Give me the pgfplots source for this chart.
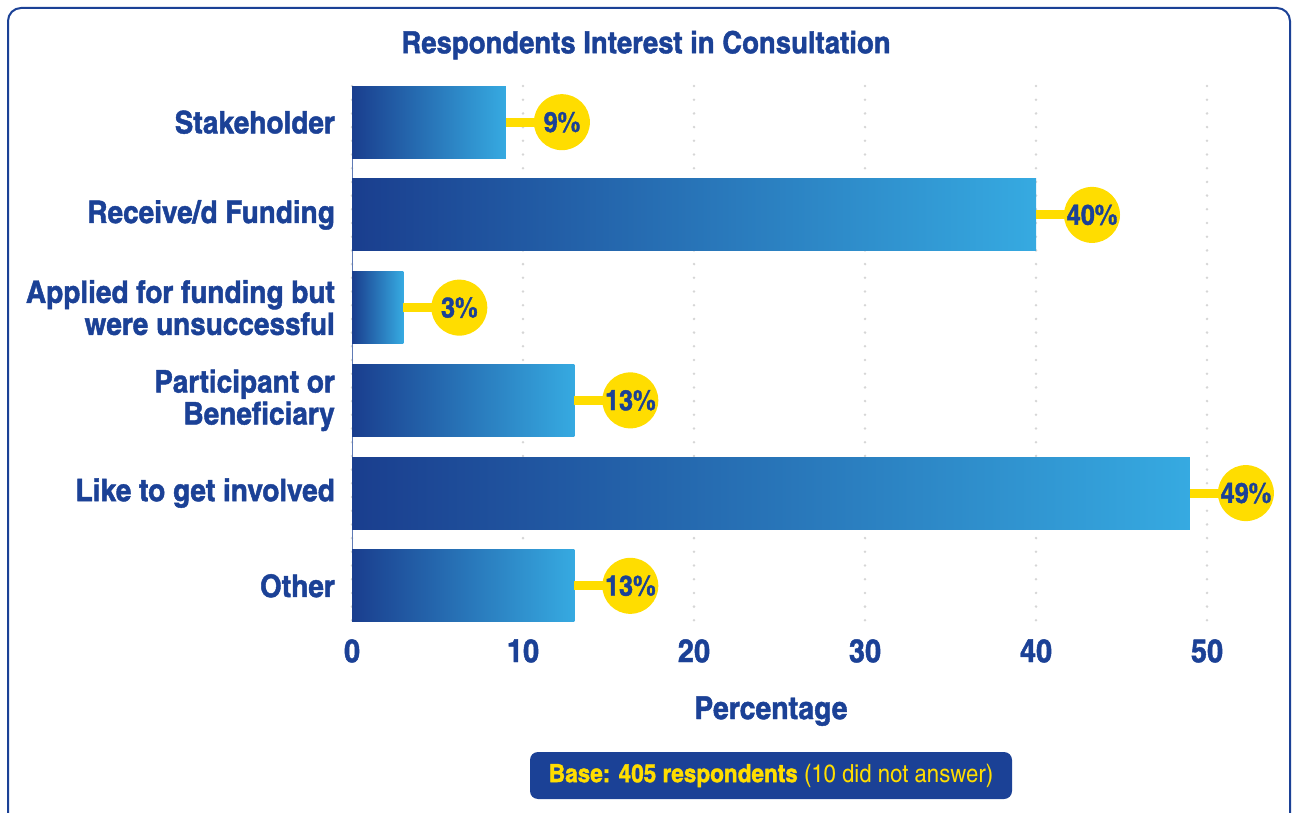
\documentclass[border=0pt]{standalone}
\usepackage{fontspec}
\setmainfont{texgyreheroscn}[Extension=.otf, UprightFont=*-regular, BoldFont=*-bold, ItalicFont=*-italic, BoldItalicFont=*-bolditalic, UprightFeatures={FakeStretch=1.08}, BoldFeatures={FakeStretch=1.1, FakeBold=1.4}]
\usepackage{pgfplots}
\pgfplotsset{compat=1.18}
\usepackage{xcolor}

\definecolor{navy}{HTML}{1B4196}
\definecolor{barL}{HTML}{1A3E8E}
\definecolor{barR}{HTML}{36AAE1}
\definecolor{dot}{HTML}{D6D6D6}
\definecolor{yel}{HTML}{FFDD00}

\pgfplotsset{shadedbar/.style={xbar, bar shift=0pt, bar width=72pt, draw=none, left color=barL, right color=barR}}

\begin{document}
\begin{tikzpicture}
\useasboundingbox (0pt,0pt) rectangle (1293pt,812pt);
\begin{scope}
\clip (0pt,0pt) rectangle (1293pt,812pt);
\draw[navy, line width=2pt, rounded corners=13pt] (8pt,-20pt) rectangle (1290pt,804pt);
\end{scope}
\begin{axis}[
at={(352pt,726pt)}, anchor=north west,
scale only axis, width=897.75pt, height=536pt,
xmin=0, xmax=52.5, ymin=-0.39, ymax=5.39,
y dir=reverse,
clip=false,
axis y line*=left, axis x line*=bottom,
x axis line style={draw=none},
y axis line style={draw=navy!70, line width=1pt},
major tick length=0pt,
xtick={0,10,20,30,40,50},
ytick={0,1,2,3,4,5},
yticklabels={Stakeholder, Receive/d Funding, {Applied for funding but\\were unsuccessful}, {Participant or\\Beneficiary}, Like to get involved, Other},
/pgf/number format/assume math mode=true,
xticklabel style={anchor=base, yshift=-40pt, font=\fontsize{32}{34}\selectfont\bfseries, text=navy},
yticklabel style={anchor=east, inner sep=0pt, xshift=-17pt, align=right, font=\fontsize{31}{32}\selectfont\bfseries, text=navy},
xmajorgrids,
grid style={dot, line width=2.8pt, line cap=round, dash pattern=on 0pt off 13.7pt},
title={Respondents Interest in Consultation},
title style={at={(axis description cs:0.3275,1.05)}, anchor=base, font=\fontsize{30.5}{32}\selectfont\bfseries, text=navy},
xlabel={Percentage},
xlabel style={at={(axis description cs:0.4667,-0.181)}, anchor=base, font=\fontsize{31.5}{34}\selectfont\bfseries, text=navy},
]
\addplot[shadedbar] coordinates {(9,0)};
\addplot[shadedbar] coordinates {(40,1)};
\addplot[shadedbar] coordinates {(3,2)};
\addplot[shadedbar] coordinates {(13,3)};
\addplot[shadedbar] coordinates {(49,4)};
\addplot[shadedbar] coordinates {(13,5)};
% connectors and value circles
\addplot[draw=none, mark=none, point meta=x,
  error bars/.cd, x dir=plus, x explicit,
  error bar style={draw=yel, line width=9pt}, error mark=none,
  /pgfplots/.cd,
  nodes near coords={\pgfmathprintnumber{\pgfplotspointmeta}\%},
  every node near coord/.style={anchor=center, xshift=56pt, circle, fill=yel, minimum size=56pt, inner sep=0pt, font=\fontsize{28}{30}\selectfont\bfseries, text=navy}]
  coordinates {(9,0) +- (2,0) (40,1) +- (2,0) (3,2) +- (2,0) (13,3) +- (2,0) (49,4) +- (2,0) (13,5) +- (2,0)};
\end{axis}
\node[fill=navy, rounded corners=8pt, minimum width=482pt, minimum height=47pt, inner sep=0pt, text=yel, font=\fontsize{25}{27}\selectfont] at (771pt,36.5pt) {\textbf{Base: 405 respondents} (10 did not answer)};
\end{tikzpicture}
\end{document}
